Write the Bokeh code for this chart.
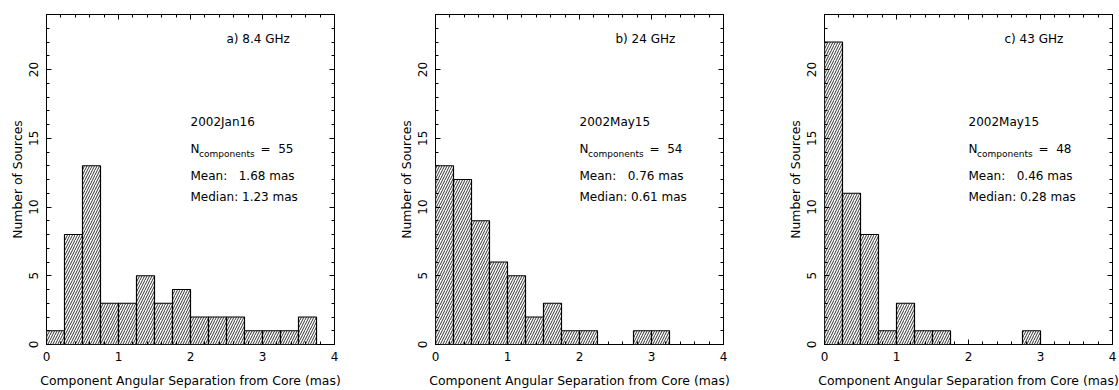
from bokeh.plotting import figure
from bokeh.layouts import row
from bokeh.models import (Range1d, LinearAxis, SingleIntervalTicker, ColumnDataSource,
                          CustomJSTickFormatter)
from bokeh.core.properties import value
from bokeh.embed import file_html
from bokeh.resources import INLINE

# ---- data ----
bin_width = 0.25
counts_a = [1, 8, 13, 3, 3, 5, 3, 4, 2, 2, 2, 1, 1, 1, 2]
counts_b = [13, 12, 9, 6, 5, 2, 3, 1, 1, 0, 0, 1, 1]
counts_c = [22, 11, 8, 1, 3, 1, 1, 0, 0, 0, 0, 1]

panel_titles = ["a) 8.4 GHz", "b) 24 GHz", "c) 43 GHz"]
epochs = ["2002Jan16", "2002May15", "2002May15"]
n_components = ["55", "54", "48"]
means = ["1.68", "0.76", "0.46"]
medians = ["1.23", "0.61", "0.28"]

x_label = "Component Angular Separation from Core (mas)"
y_label = "Number of Sources"

FONT = "DejaVu Sans"
NB = "\u00a0"


def make_panel(counts, title, epoch, ncomp, mean, median, width, left_b, frame_w):
    right_b = width - left_b - frame_w
    p = figure(width=width, height=390, output_backend="svg", toolbar_location=None,
               x_range=Range1d(0, 4), y_range=Range1d(0, 24),
               min_border_left=left_b, min_border_right=right_b,
               min_border_top=14, min_border_bottom=44,
               background_fill_color="white", border_fill_color="white")
    p.grid.visible = False
    p.outline_line_color = "black"
    p.outline_line_width = 1
    p.outline_line_alpha = 1

    bottom_ax = p.below[0]
    left_ax = p.left[0]
    bottom_ax.ticker = SingleIntervalTicker(interval=1, num_minor_ticks=5)
    left_ax.ticker = SingleIntervalTicker(interval=5, num_minor_ticks=5)

    blank = CustomJSTickFormatter(code="return '';")
    top_ax = LinearAxis(ticker=SingleIntervalTicker(interval=1, num_minor_ticks=5),
                        formatter=blank, major_label_standoff=0)
    right_ax = LinearAxis(ticker=SingleIntervalTicker(interval=5, num_minor_ticks=5),
                          formatter=blank, major_label_standoff=0)
    p.add_layout(top_ax, "above")
    p.add_layout(right_ax, "right")

    for ax in (bottom_ax, left_ax, top_ax, right_ax):
        ax.axis_line_color = None
        ax.major_tick_in = 5
        ax.major_tick_out = 0
        ax.minor_tick_in = 3
        ax.minor_tick_out = 0
        ax.major_tick_line_color = "black"
        ax.minor_tick_line_color = "black"
        ax.major_label_text_color = "black"
        ax.major_label_text_font = FONT
        ax.axis_label_text_font = FONT
        ax.axis_label_text_color = "black"
        ax.axis_label_text_font_style = "normal"

    bottom_ax.axis_label = x_label
    bottom_ax.axis_label_text_font_size = "12.4px"
    bottom_ax.major_label_text_font_size = "12px"
    bottom_ax.major_label_standoff = 7
    bottom_ax.axis_label_standoff = 9

    left_ax.axis_label = y_label
    left_ax.axis_label_text_font_size = "12.4px"
    left_ax.major_label_text_font_size = "12px"
    left_ax.major_label_orientation = "vertical"
    left_ax.major_label_standoff = 9
    left_ax.axis_label_standoff = 1

    lefts, rights, tops = [], [], []
    for i, c in enumerate(counts):
        if c > 0:
            lefts.append(i * bin_width)
            rights.append((i + 1) * bin_width)
            tops.append(c)
    src = ColumnDataSource(dict(left=lefts, right=rights, top=tops, bottom=[0] * len(tops)))
    p.quad(left="left", right="right", top="top", bottom="bottom", source=src,
           fill_color="white", line_color="black", line_width=1.2,
           hatch_pattern="/", hatch_color="black", hatch_scale=5, hatch_weight=0.8)

    common = dict(text_font=value(FONT), text_color="black", text_baseline="middle",
                  text_align="left")
    fs = "12px"
    p.text(x=[2.5], y=[22.2], text=[title], text_font_size=fs, **common)
    p.text(x=[2.0], y=[16.2], text=[epoch], text_font_size=fs, **common)
    p.text(x=[2.0], y=[14.25], text=["N"], text_font_size=fs, **common)
    p.text(x=[2.0], y=[14.25], text=["components"], text_font_size="9px",
           x_offset=8.5, y_offset=5, **common)
    p.text(x=[2.0], y=[14.25], text=["=" + NB + NB + ncomp], text_font_size=fs,
           x_offset=70, **common)
    p.text(x=[2.0], y=[12.25], text=["Mean:" + NB * 2 + " " + mean + " mas"],
           text_font_size=fs, **common)
    p.text(x=[2.0], y=[10.75], text=["Median: " + median + " mas"], text_font_size=fs, **common)
    return p


pa = make_panel(counts_a, panel_titles[0], epochs[0], n_components[0], means[0], medians[0], 395, 46, 288)
pb = make_panel(counts_b, panel_titles[1], epochs[1], n_components[1], means[1], medians[1], 389, 40, 288)
pc = make_panel(counts_c, panel_titles[2], epochs[2], n_components[2], means[2], medians[2], 335, 40, 288)

layout = row(pa, pb, pc)
open("out.html", "w").write(file_html(layout, INLINE))
